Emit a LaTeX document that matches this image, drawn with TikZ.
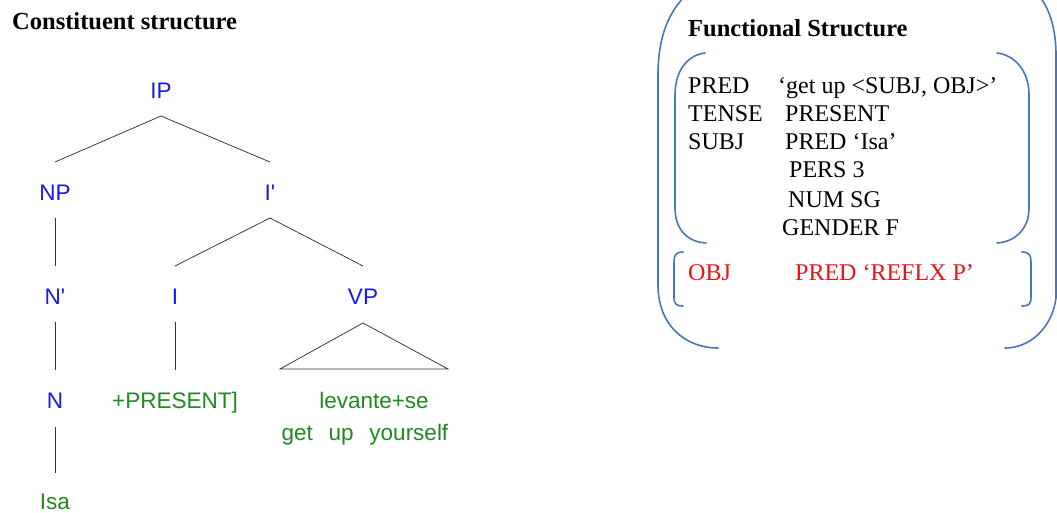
\documentclass[tikz,border=0pt]{standalone}
\usepackage{fontspec}
\setmainfont{Liberation Serif}
\newfontfamily\treefont{Liberation Sans}
\usetikzlibrary{calc}

\definecolor{catblue}{RGB}{25,25,225}
\definecolor{wordgreen}{RGB}{35,135,35}
\definecolor{objred}{RGB}{235,20,20}
\definecolor{bracketblue}{RGB}{74,118,184}

\begin{document}
\begin{tikzpicture}[x=1pt,y=-1pt,
  cat/.style={font=\treefont\fontsize{22.5}{26}\selectfont, text=catblue,
              inner sep=0pt, text height=16pt, text depth=0pt},
  word/.style={font=\treefont\fontsize{22.5}{26}\selectfont, text=wordgreen,
               inner sep=0pt, text height=16pt, text depth=0pt},
  branch/.style={draw=black!80, line width=0.75pt},
  title/.style={font=\bfseries\fontsize{24.5}{28}\selectfont, inner sep=0pt, anchor=base west},
  fs/.style={font=\fontsize{24}{28}\selectfont, inner sep=0pt, anchor=base west},
  fsobj/.style={fs, text=objred},
  brk/.style={draw=bracketblue, line width=1.6pt, line cap=round},
]
\useasboundingbox (0,0) rectangle (1057,512);
\fill[white] (0,0) rectangle (1057,512);

% ---------- constituent structure ----------
\node[title] (ctitle) at (12,29) {Constituent structure};

\node[cat]  (IP)   at (161,90)  {IP};
\node[cat]  (NP)   at (55,192)  {NP};
\node[cat]  (Ibar) at (270,192) {I'};
\node[cat]  (Nbar) at (55,296)  {N'};
\node[cat]  (I)    at (175,296) {I};
\node[cat]  (VP)   at (363,296) {VP};
\node[cat]  (N)    at (55,400)  {N};
\node[word] (pres) at (175,400) {+PRESENT]};
\node[word] (Isa)  at (55,501)  {Isa};
\node[word] (lev)  at (374,400) {levante+se};
\node[word] (gloss) at (365,432) {get\hspace{0.7em}up\hspace{0.7em}yourself};

\newcommand{\tedge}[2]{\draw[branch] ($(#1)+(0,26)$) -- ($(#2)+(0,-30)$);}
\tedge{IP}{NP}
\tedge{IP}{Ibar}
\tedge{NP}{Nbar}
\tedge{Ibar}{I}
\tedge{Ibar}{VP}
\tedge{Nbar}{N}
\tedge{I}{pres}
\draw[branch] ($(N)+(0,27)$) -- ($(Isa)+(0,-28)$);
\draw[branch] ($(VP)+(0,27)$) -- ($(VP)+(85,73)$) -- ($(VP)+(-83,73)$) -- cycle;

% ---------- functional structure ----------
\node[title] (ftitle) at (688,36) {Functional Structure};

\node[fs] (a1) at (688,93)  {PRED};
\node[fs] (v1) at (778,93)  {`get up <SUBJ, OBJ>'};
\node[fs] (a2) at (688,121) {TENSE};
\node[fs] (v2) at (785,121) {PRESENT};
\node[fs] (a3) at (688,149) {SUBJ};
\node[fs] (v3) at (785,149) {PRED `Isa'};
\node[fs] (v4) at (789,177) {PERS 3};
\node[fs] (v5) at (788,207) {NUM SG};
\node[fs] (v6) at (782,235) {GENDER F};
\node[fsobj] (a7) at (688,280) {OBJ};
\node[fsobj] (v7) at (795,280) {PRED `REFLX P'};

% outer brackets
\draw[brk] (684,-3) .. controls (667,15) and (658,40) .. (658,75)
  -- (658,285) .. controls (658,325) and (685,348) .. (718,348);
\draw[brk] (1040,-3) .. controls (1050,10) and (1056,30) .. (1056,55)
  -- (1056,298) .. controls (1052,328) and (1030,348) .. (1005,348);

% brackets round the SUBJ-level attributes
\draw[brk] (705,53) .. controls (688,55) and (675,70) .. (675,95)
  -- (675,208) .. controls (675,230) and (688,242) .. (706,243);
\draw[brk] (997,53) .. controls (1014,55) and (1029,70) .. (1029,95)
  -- (1029,208) .. controls (1029,230) and (1014,242) .. (997,243);

% brackets round the OBJ line
\draw[brk] (683,252) .. controls (676,252) and (674,255) .. (674,262)
  -- (674,297) .. controls (674,304) and (676,306) .. (683,306);
\draw[brk] (1022,252) .. controls (1029,252) and (1031,255) .. (1031,262)
  -- (1031,297) .. controls (1031,304) and (1029,306) .. (1022,306);
\end{tikzpicture}
\end{document}
